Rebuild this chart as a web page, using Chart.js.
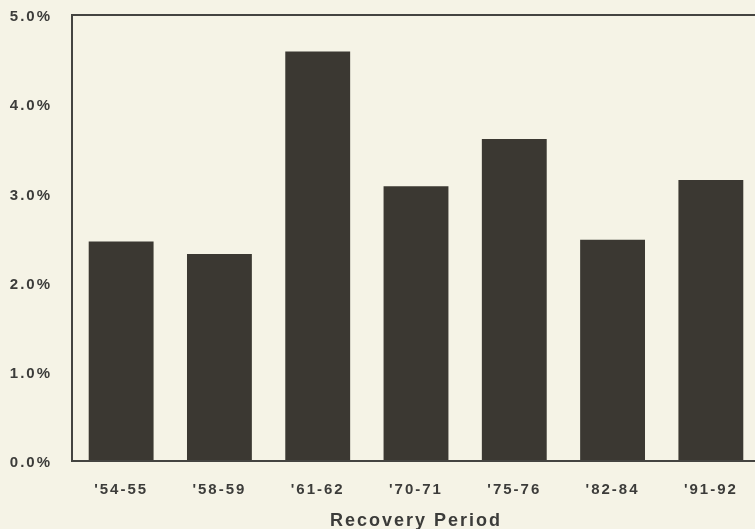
<!DOCTYPE html>
<html>
<head>
<meta charset="utf-8">
<script src="https://cdn.jsdelivr.net/npm/chart.js@4"></script>
<style>
  html, body { margin: 0; padding: 0; background: #f5f3e6; overflow: hidden; }
  #wrap { width: 762px; height: 529px; }
</style>
</head>
<body>
<div id="wrap"><canvas id="c" width="762" height="529"></canvas></div>
<script>
// Average growth rate during each recovery period (%)
const periods = ["'54-55", "'58-59", "'61-62", "'70-71", "'75-76", "'82-84", "'91-92"];
const growthRates = [2.46, 2.32, 4.59, 3.08, 3.61, 2.48, 3.15];
const yTicks = [0, 1, 2, 3, 4, 5];

const ink = '#3b3832';
const textColor = '#3c3c3a';
const fontFamily = 'Liberation Sans, Arial, sans-serif';

const framePlugin = {
  id: 'frame',
  beforeDraw(chart) {
    const ctx = chart.ctx;
    ctx.save();
    ctx.fillStyle = '#f5f3e6';
    ctx.fillRect(0, 0, chart.width, chart.height);
    ctx.restore();
    ctx.letterSpacing = '2px';
  },
  afterDatasetsDraw(chart) {
    const { ctx, chartArea: a } = chart;
    ctx.save();
    ctx.strokeStyle = '#444441';
    ctx.lineWidth = 2;
    ctx.strokeRect(a.left, a.top, a.right - a.left, a.bottom - a.top);
    ctx.restore();
  }
};

new Chart(document.getElementById('c'), {
  type: 'bar',
  data: {
    labels: periods,
    datasets: [{
      data: growthRates,
      backgroundColor: ink,
      borderWidth: 0,
      categoryPercentage: 1.0,
      barPercentage: 0.66
    }]
  },
  options: {
    responsive: false,
    animation: false,
    devicePixelRatio: 1,
    layout: { padding: { top: 15, left: 0, right: 2, bottom: 0 } },
    plugins: { legend: { display: false }, tooltip: { enabled: false } },
    scales: {
      x: {
        grid: { display: false, drawTicks: false },
        border: { display: true, color: '#444441', width: 2 },
        ticks: {
          color: textColor,
          padding: 20,
          font: { family: fontFamily, size: 15, weight: 'bold' }
        },
        title: {
          display: true,
          text: 'Recovery Period',
          color: textColor,
          padding: { top: 8, bottom: -3 },
          font: { family: fontFamily, size: 18, weight: 'bold' }
        },
        afterFit(scale) { scale.height = 68; }
      },
      y: {
        min: 0,
        max: 5,
        afterBuildTicks(scale) { scale.ticks = yTicks.map(v => ({ value: v })); },
        grid: { display: false, drawTicks: false },
        border: { display: true, color: '#444441', width: 2 },
        ticks: {
          color: textColor,
          padding: 20,
          labelOffset: 2,
          font: { family: fontFamily, size: 15, weight: 'bold' },
          callback: v => Number(v).toFixed(1) + '%'
        },
        afterFit(scale) {
          scale.width = 72;
          scale.paddingTop = 0;
          scale.paddingBottom = 0;
        }
      }
    }
  },
  plugins: [framePlugin]
});
</script>
</body>
</html>
